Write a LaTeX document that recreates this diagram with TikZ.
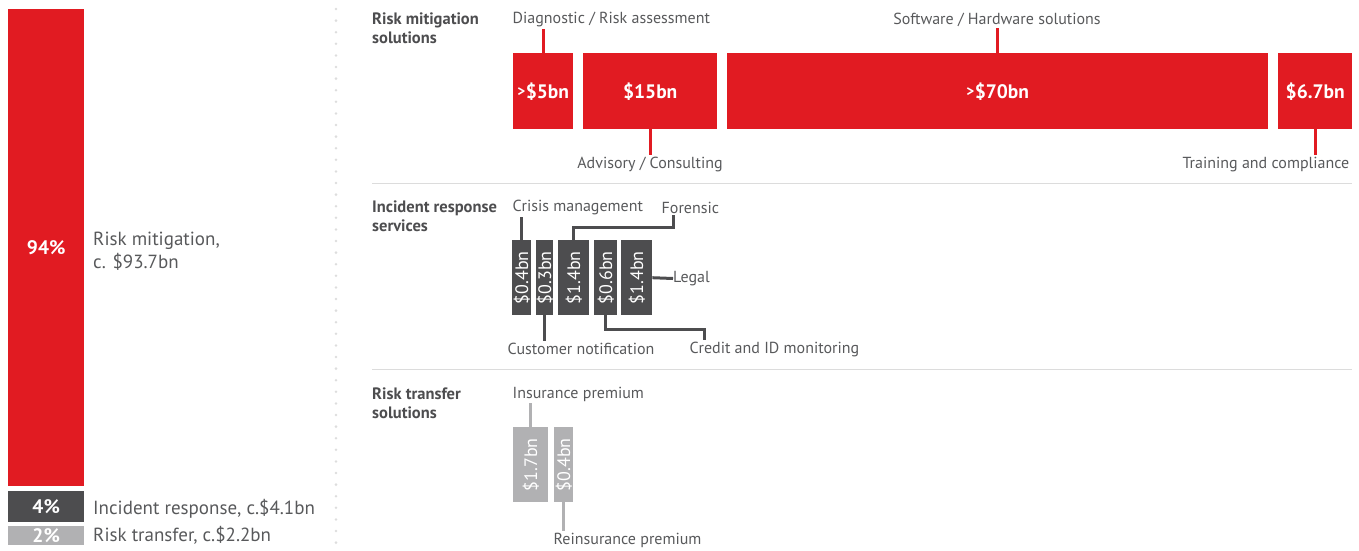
\documentclass[tikz,border=0pt]{standalone}
\usepackage{fontspec}
\setmainfont{PT Sans}
\definecolor{mitred}{HTML}{E11B22}
\definecolor{incgrey}{HTML}{4D4D4F}
\definecolor{trfgrey}{HTML}{B1B1B3}
\definecolor{txtgrey}{HTML}{58595B}
\definecolor{rulegrey}{HTML}{DCDCDC}
\newcommand\gtr{\raisebox{1.5pt}{\fontsize{15}{16}\selectfont>}\kern0.5pt}
\tikzset{
  blk/.style={anchor=north west,inner sep=0,text=white,font=\fontsize{19.5}{22}\selectfont\bfseries},
  vblk/.style={anchor=north west,inner sep=0},
  vtxt/.style={rotate=90,inner sep=0,text=white,font=\fontsize{18}{20}\selectfont},
  lbl/.style={inner sep=1.5pt,text=txtgrey,font=\fontsize{16}{18}\selectfont},
  biglbl/.style={anchor=west,inner sep=0,align=left,text=txtgrey,font=\fontsize{19}{23}\selectfont},
  head/.style={anchor=west,inner sep=0,align=left,text=incgrey,font=\fontsize{16.5}{19}\selectfont\bfseries},
  redtick/.style={draw=mitred,line width=3pt},
  inctick/.style={draw=incgrey,line width=3pt},
  trftick/.style={draw=trfgrey,line width=3pt}
}
\begin{document}
\begin{tikzpicture}[x=1pt,y=-1pt]
\useasboundingbox (0,0) rectangle (1359,550);
% share of the whole market
\node[blk,fill=mitred,minimum width=76,minimum height=477] (rmbar) at (8,9) {94\%};
\node[blk,fill=incgrey,minimum width=76,minimum height=31] (irbar) at (8,491) {4\%};
\node[blk,fill=trfgrey,minimum width=76,minimum height=19] (rtbar) at (8,526) {2\%};
\node[biglbl] (rmlbl) at (93,251) {Risk mitigation,\\c. \$93.7bn};
\node[biglbl] (irlbl) at (93,509) {Incident response, c.\$4.1bn};
\node[biglbl] (rtlbl) at (93,535) {Risk transfer, c.\$2.2bn};
\foreach \i in {0,...,46}
  \fill[rulegrey!90!black!60] (336,9+11.6*\i) circle (1.4);
\draw[rulegrey,line width=1pt] (372,183)--(1352,183) (372,369)--(1352,369);
% risk mitigation solutions
\node[head] (rmhead) at (372,28.5) {Risk mitigation\\solutions};
\node[blk,fill=mitred,minimum width=60,minimum height=76] (diagbar) at (513,53) {\gtr\$5bn};
\node[blk,fill=mitred,minimum width=134,minimum height=76] (advbar) at (583,53) {\$15bn};
\node[blk,fill=mitred,minimum width=541,minimum height=76] (swbar) at (727,53) {\gtr\$70bn};
\node[blk,fill=mitred,minimum width=74,minimum height=76] (trbar) at (1278,53) {\$6.7bn};
\node[lbl,anchor=west] (diag) at (511,19.5) {Diagnostic / Risk assessment};
\node[lbl] (sw) at (997,19.5) {Software / Hardware solutions};
\node[lbl] (adv) at (650,164.5) {Advisory / Consulting};
\node[lbl,anchor=east] (train) at (1351,164.5) {Training and compliance};
\draw[redtick] (diagbar.north) -- (diagbar.north |- diag.south);
\draw[redtick] (swbar.north) -- (swbar.north |- sw.south);
\draw[redtick] (advbar.south) -- (advbar.south |- adv.north);
\draw[redtick] (trbar.south) -- (trbar.south |- train.north);
% incident response services
\node[head] (irhead) at (372,216.5) {Incident response\\services};
\node[vblk,fill=incgrey,minimum width=19,minimum height=75,label={[vtxt]center:\$0.4bn}] (cmbar) at (512,240) {};
\node[vblk,fill=incgrey,minimum width=17,minimum height=75,label={[vtxt]center:\$0.3bn}] (cnbar) at (536,240) {};
\node[vblk,fill=incgrey,minimum width=31,minimum height=75,label={[vtxt]center:\$1.4bn}] (fobar) at (558,240) {};
\node[vblk,fill=incgrey,minimum width=23,minimum height=75,label={[vtxt]center:\$0.6bn}] (idbar) at (594,240) {};
\node[vblk,fill=incgrey,minimum width=31,minimum height=75,label={[vtxt]center:\$1.4bn}] (lgbar) at (621,240) {};
\node[lbl,anchor=west] (crisis) at (511,207.5) {Crisis management};
\node[lbl,anchor=west] (forensic) at (660,207.5) {Forensic};
\node[lbl,anchor=west,inner sep=0] (legal) at (673,278.5) {Legal};
\node[lbl,anchor=west] (cust) at (506,348.5) {Customer notification};
\node[lbl,anchor=west] (credit) at (688,349.5) {Credit and ID monitoring};
\coordinate (fk) at (673,227);
\coordinate (ck) at (704,329);
\draw[inctick] (cmbar.north) -- (cmbar.north |- crisis.south);
\draw[inctick] (cnbar.south) -- (cnbar.south |- cust.north);
\draw[inctick] (fobar.north) |- (fk) -- (fk |- forensic.south);
\draw[inctick] (idbar.south) |- (ck) -- (ck |- credit.north);
\draw[inctick] (lgbar.east) -- (legal.west);
% risk transfer solutions
\node[head] (rthead) at (372,403.5) {Risk transfer\\solutions};
\node[vblk,fill=trfgrey,minimum width=35,minimum height=75,label={[vtxt]center:\$1.7bn}] (inbar) at (513,427) {};
\node[vblk,fill=trfgrey,minimum width=19,minimum height=75,label={[vtxt]center:\$0.4bn}] (rebar) at (554,427) {};
\node[lbl,anchor=west] (insur) at (511,394.5) {Insurance premium};
\node[lbl,anchor=west] (reins) at (552,540) {Reinsurance premium};
\draw[trftick] (inbar.north) -- (inbar.north |- insur.south);
\draw[trftick] (rebar.south) -- (rebar.south |- reins.north);
\end{tikzpicture}
\end{document}
